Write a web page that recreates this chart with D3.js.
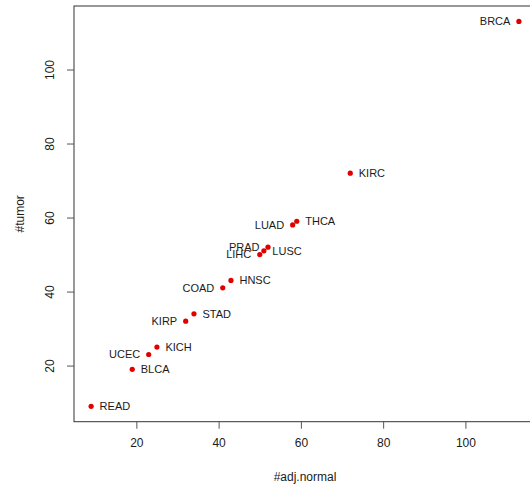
<!DOCTYPE html>
<html>
<head>
<meta charset="utf-8">
<script src="https://cdn.jsdelivr.net/npm/d3@7"></script>
<style>
  body { margin: 0; background: #fff; }
  text { font-family: "Liberation Sans", Arial, Helvetica, sans-serif; fill: #1a1a1a; }
</style>
</head>
<body>
<script>
// cancer types with counts of adjacent normal and tumor samples
var cancers = ["BRCA", "KIRC", "THCA", "LUAD", "PRAD", "LUSC", "LIHC", "HNSC",
               "COAD", "STAD", "KIRP", "KICH", "UCEC", "BLCA", "READ"];
var adjNormal = [113, 72, 59, 58, 52, 51, 50, 43, 41, 34, 32, 25, 23, 19, 9];
var tumor     = [113, 72, 59, 58, 52, 51, 50, 43, 41, 34, 32, 25, 23, 19, 9];
var xTicks = [20, 40, 60, 80, 100];
var yTicks = [20, 40, 60, 80, 100];

// which side of the point each label sits on
var leftLabels = ["BRCA", "LUAD", "PRAD", "LIHC", "COAD", "KIRP", "UCEC"];

var data = cancers.map(function (c, i) {
    return { name: c, x: adjNormal[i], y: tumor[i] };
});

var width = 530, height = 488;
var plot = { left: 74, right: 536, top: 6, bottom: 421.7 };

// R style 4% padding around the data range
function padded(vals) {
    var e = d3.extent(vals);
    var pad = (e[1] - e[0]) * 0.04;
    return [e[0] - pad, e[1] + pad];
}

var x = d3.scaleLinear().domain(padded(adjNormal)).range([plot.left, plot.right]);
var y = d3.scaleLinear().domain(padded(tumor)).range([plot.bottom, plot.top]);

var svg = d3.select("body").append("svg")
    .attr("width", width)
    .attr("height", height);

// box
svg.append("rect")
    .attr("x", plot.left)
    .attr("y", plot.top)
    .attr("width", plot.right - plot.left)
    .attr("height", plot.bottom - plot.top)
    .attr("fill", "none")
    .attr("stroke", "#333")
    .attr("stroke-width", 1);

// x axis
var xAxis = svg.append("g")
    .attr("transform", "translate(0," + plot.bottom + ")")
    .call(d3.axisBottom(x).tickValues(xTicks).tickSize(7).tickPadding(10));
xAxis.select(".domain").remove();
xAxis.selectAll(".tick line").attr("stroke", "#555");
xAxis.selectAll(".tick text").attr("font-size", 12).attr("fill", "#1a1a1a")
    .attr("font-family", "Liberation Sans, Arial, sans-serif");

// y axis, labels rotated like base R
var yAxis = svg.append("g")
    .attr("transform", "translate(" + plot.left + ",0)")
    .call(d3.axisLeft(y).tickValues(yTicks).tickSize(7));
yAxis.select(".domain").remove();
yAxis.selectAll(".tick line").attr("stroke", "#555");
yAxis.selectAll(".tick text")
    .attr("font-size", 12).attr("fill", "#1a1a1a")
    .attr("font-family", "Liberation Sans, Arial, sans-serif")
    .attr("x", null).attr("dy", null)
    .attr("text-anchor", "middle")
    .attr("transform", "translate(-24,0) rotate(-90)")
    .attr("dy", "0.35em");

// axis titles
svg.append("text")
    .attr("x", (plot.left + plot.right) / 2)
    .attr("y", 481)
    .attr("text-anchor", "middle")
    .attr("font-size", 12)
    .text("#adj.normal");

svg.append("text")
    .attr("transform", "translate(24," + ((plot.top + plot.bottom) / 2) + ") rotate(-90)")
    .attr("text-anchor", "middle")
    .attr("font-size", 12)
    .text("#tumor");

// points
svg.selectAll(".dot")
    .data(data)
    .enter()
    .append("circle")
    .attr("class", "dot")
    .attr("cx", function (d) { return x(d.x); })
    .attr("cy", function (d) { return y(d.y); })
    .attr("r", 2.6)
    .attr("fill", "#e00000");

// labels
svg.selectAll(".lab")
    .data(data)
    .enter()
    .append("text")
    .attr("class", "lab")
    .attr("x", function (d) {
        return leftLabels.indexOf(d.name) >= 0 ? x(d.x) - 8.5 : x(d.x) + 8.5;
    })
    .attr("y", function (d) { return y(d.y); })
    .attr("dy", "0.35em")
    .attr("text-anchor", function (d) {
        return leftLabels.indexOf(d.name) >= 0 ? "end" : "start";
    })
    .attr("font-size", 11)
    .text(function (d) { return d.name; });
</script>
</body>
</html>
